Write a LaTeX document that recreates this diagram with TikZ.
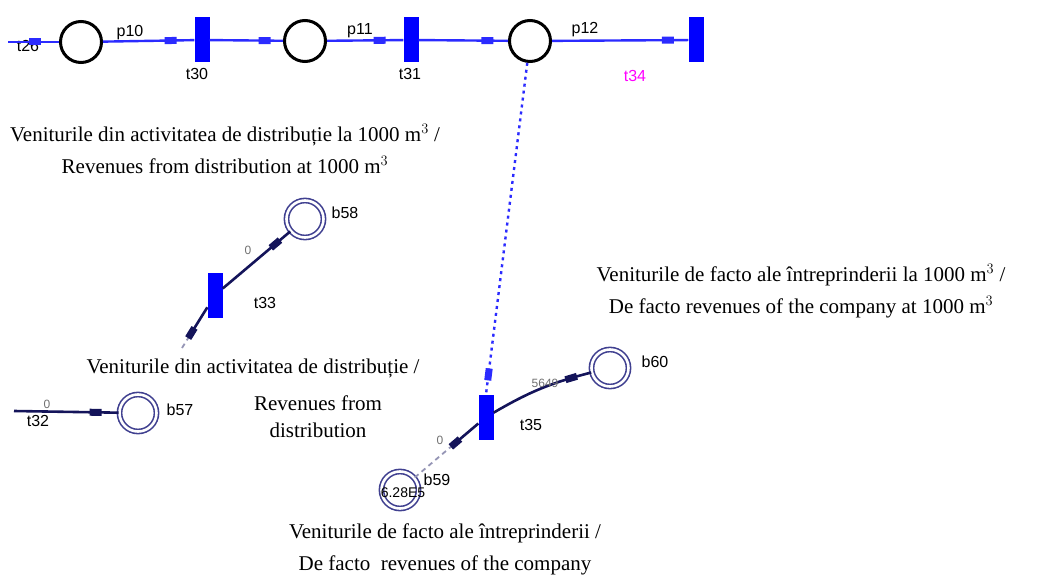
\documentclass[tikz,border=0pt]{standalone}
\usepackage{fontspec}
\setmainfont{Liberation Serif}
\newfontfamily\labfont{Liberation Sans}
\usetikzlibrary{positioning,calc,arrows.meta}
\definecolor{netblue}{HTML}{2B2BFF}
\definecolor{barblue}{HTML}{0000FF}
\definecolor{navy}{HTML}{14145A}
\definecolor{ring}{HTML}{404090}
\definecolor{weight}{HTML}{707070}
\definecolor{pink}{HTML}{FF00FF}
\tikzset{
  place/.style={circle, draw=black, line width=3pt, fill=white, minimum size=41pt, inner sep=0pt},
  bplace/.style={circle, draw=ring, line width=1.6pt, double=white, double distance=2.6pt,
                 minimum size=37pt, inner sep=0pt},
  trans/.style={rectangle, fill=barblue, minimum width=15pt, minimum height=45pt, inner sep=0pt},
  lab/.style={font=\labfont\fontsize{16}{16}\selectfont, text=black},
  wt/.style={font=\labfont\fontsize{12}{12}\selectfont, text=weight},
  note/.style={font=\fontsize{21}{32}\selectfont, align=center},
  netarc/.style={draw=netblue, line width=2.4pt},
  darkarc/.style={draw=navy, line width=2.6pt},
  fadearc/.style={draw=navy!45, line width=1.8pt, dash pattern=on 5pt off 4pt},
  tipmark/.style={fill=#1, sloped, minimum width=12pt, minimum height=7pt, inner sep=0pt},
  tipmark/.default=netblue
}
\begin{document}
\begin{tikzpicture}[x=1pt, y=-1pt]
  \useasboundingbox (0,0) rectangle (1042,583);
  % top chain
  \coordinate (t26) at (8,42);
  \node[place] (p10) at (81,42) {};
  \node[trans] (t30) at (202,40) {};
  \node[place] (p11) at (305,41) {};
  \node[trans] (t31) at (411,40) {};
  \node[place] (p12) at (530,41) {};
  \node[trans] (t34) at (696,40) {};
  \node[lab] (t26l) at (28,46) {t26};
  \node[lab] (p10l) at (130,33) {p10};
  \node[lab] (t30l) at (197,74) {t30};
  \node[lab] (p11l) at (360,31) {p11};
  \node[lab] (t31l) at (410,74) {t31};
  \node[lab] (p12l) at (585,30) {p12};
  \node[lab, text=pink] (t34l) at (635,76) {t34};
  \draw[netarc] (t26) -- node[pos=0.52, tipmark]{} (p10);
  \draw[netarc] (p10) -- node[pos=0.74, tipmark]{} (t30);
  \draw[netarc] (t30) -- node[pos=0.75, tipmark]{} (p11);
  \draw[netarc] (p11) -- node[pos=0.69, tipmark]{} (t31);
  \draw[netarc] (t31) -- node[pos=0.77, tipmark]{} (p12);
  \draw[netarc] (p12) -- node[pos=0.85, tipmark]{} (t34);
  % distribution revenues
  \node[note] (txt1) at (225,149) {Veniturile din activitatea de distribuție la 1000 m$^3$ /\\Revenues from distribution at 1000 m$^3$};
  \node[bplace] (b58) at (305,219) {};
  \node[trans] (t33) at (215,295) {};
  \coordinate (in33) at (182,348);
  \node[lab] (b58l) at (345,213) {b58};
  \node[lab] (t33l) at (265,303) {t33};
  \draw[darkarc] (t33) -- node[pos=0.78, tipmark=navy]{} (b58);
  \node[wt] (w58) at (248,250) {0};
  \draw[fadearc] (in33) -- coordinate[pos=0.3] (m33) (t33);
  \draw[darkarc] (m33) -- node[pos=0.1, tipmark=navy]{} (t33);
  \node[note] (txt2) at (253,368) {Veniturile din activitatea de distribuție /};
  \node[note, font=\fontsize{21}{27}\selectfont] (txt2b) at (318,417) {Revenues from\\distribution};
  \coordinate (t32) at (14,411);
  \node[bplace] (b57) at (138,413) {};
  \node[lab] (t32l) at (38,421) {t32};
  \node[lab] (b57l) at (180,410) {b57};
  \draw[darkarc] (t32) -- node[pos=0.78, tipmark=navy]{} (b57);
  \node[wt] (w57) at (47,404) {0};
  % de facto revenues
  \node[note] (txt3) at (801,291) {Veniturile de facto ale întreprinderii la 1000 m$^3$ /\\De facto revenues of the company at 1000 m$^3$};
  \node[trans] (t35) at (486,417) {};
  \node[bplace] (b60) at (610,368) {};
  \node[bplace] (b59) at (400,490) {};
  \node[lab] (t35l) at (531,425) {t35};
  \node[lab] (b60l) at (655,362) {b60};
  \node[lab] (b59l) at (437,480) {b59};
  \node[lab, font=\labfont\fontsize{14}{14}\selectfont] (m59v) at (403,493) {6.28E5};
  \draw[netarc, dash pattern=on 3pt off 4pt] (p12) -- node[pos=0.94, tipmark]{} (t35.north);
  \draw[darkarc] (t35) to[bend left=8] node[pos=0.82, tipmark=navy]{} (b60);
  \node[wt] (w60) at (545,383) {5649};
  \draw[fadearc] (b59) -- coordinate[pos=0.6] (m59) (t35);
  \draw[darkarc] (m59) -- node[pos=0.1, tipmark=navy]{} (t35);
  \node[wt] (w59) at (440,440) {0};
  \node[note] (txt4) at (445,549) {Veniturile de facto ale întreprinderii /\\De facto\ \ revenues of the company};
\end{tikzpicture}
\end{document}
